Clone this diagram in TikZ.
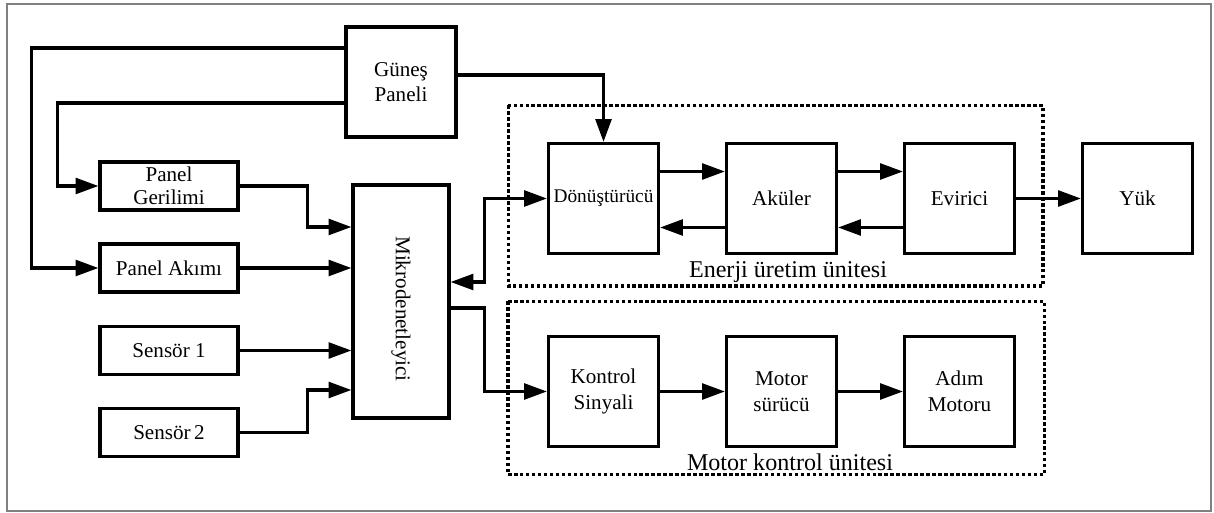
\documentclass[tikz,border=0pt]{standalone}
\usepackage{fontspec}
\setmainfont{Liberation Serif}
\usepackage{graphicx}
\usepackage{tikz}
\usetikzlibrary{positioning, arrows.meta}
\tikzset{B/.style={draw, line width=1.8pt, inner sep=0pt, align=center, minimum size=2.2cm, font=\fontsize{12}{14.5}\selectfont}}
\tikzset{W/.style={draw, line width=1.8pt, inner sep=0pt, align=center, minimum width=2.76cm, minimum height=0.96cm, font=\fontsize{12}{13}\selectfont}}
\tikzset{E/.style={draw, line width=1.8pt, ->, >={Triangle[length=13pt, width=9pt]}}}
\tikzset{D/.style={draw, line width=2.1pt, dash pattern=on 2pt off 1.4pt}}
\tikzset{L/.style={font=\fontsize{13.7}{16}\selectfont, inner sep=0pt, anchor=base}}

\begin{document}
\begin{tikzpicture}[node distance=3.56cm and 3.56cm, on grid]
        \useasboundingbox (0,0) rectangle (24.28,-10.26);
        \draw[gray, line width=1.3pt] (0.14,-0.08) rectangle (24.22,-10.22);
        %% Energy unit
        \node[B] (donus) at (12.07,-3.97) {\fontsize{11}{13}\selectfont Dönüştürücü};
        \node[B,right = of donus] (akul) {Aküler};
        \node[B,right = of akul] (evir) {Evirici};
        \node[B,right = of evir] (yuk) {Yük};
        %% Motor unit
        \node[B,below=3.86 of donus] (kontrol) {Kontrol\\Sinyali};
        \node[B,right = of kontrol] (surucu) {Motor\\sürücü};
        \node[B,right = of surucu] (adim) {Adım\\Motoru};
        %% Controller and inputs
        \node[B,minimum width=1.92cm,minimum height=4.66cm,below left=2.06 and 4.05 of donus] (mikro) {\raisebox{-3mm}{\rotatebox{-90}{Mikrodenetleyici}}};
        \node[B,above=4.39 of mikro] (gunes) {Güneş\\Paneli};
        \node[W,above left=0.67 and 4.64 of mikro] (pakim) {Panel Akımı};
        \node[W,above=1.64 of pakim] (pgerilim) {Panel\\Gerilimi};
        \node[W,below=1.65 of pakim] (sens1) {Sensör 1};
        \node[W,below=1.64 of sens1] (sens2) {Sensör\,2};
        %% Unit frames
        \draw[D] ([xshift=-0.77cm,yshift=0.73cm]donus.north west) rectangle ([xshift=0.54cm,yshift=-0.62cm]evir.south east);
        \draw[D] ([xshift=-0.78cm,yshift=0.67cm]kontrol.north west) rectangle ([xshift=0.57cm,yshift=-0.53cm]adim.south east);
        \node[L] (enerjilbl) at ([xshift=1.3mm,yshift=-4.4mm]akul.south) {Enerji üretim ünitesi};
        \node[L] (motorlbl) at ([xshift=1.7mm,yshift=-4.5mm]surucu.south) {Motor kontrol ünitesi};
        %% Solar panel edges
        \draw[E] ([yshift=6.8mm]gunes.west) -| ([xshift=-1.34cm]pakim.west) -- (pakim.west);
        \draw[E] ([yshift=-4.2mm]gunes.west) -| ([xshift=-0.82cm]pgerilim.west) -- (pgerilim.west);
        \draw[E] ([yshift=1.4mm]gunes.east) -| (donus.north);
        %% Inputs to controller
        \draw[E] (pgerilim.east) -- ++(1.36,0) |- ([yshift=1.49cm]mikro.west);
        \draw[E] (pakim.east) -- (pakim.east -| mikro.west);
        \draw[E] (sens1.east) -- (sens1.east -| mikro.west);
        \draw[E] (sens2.east) -- ++(1.36,0) |- ([yshift=-1.77cm]mikro.west);
        %% Controller outputs
        \draw[E,<->] ([yshift=3.9mm]mikro.east) -- ++(0.68,0) |- (donus.west);
        \draw[E] ([yshift=-1.3mm]mikro.east) -- ++(0.68,0) |- (kontrol.west);
        %% Energy unit edges
        \draw[E] ([yshift=5.4mm]donus.east) -- ([yshift=5.4mm]akul.west);
        \draw[E] ([yshift=-5.8mm]akul.west) -- ([yshift=-5.8mm]donus.east);
        \draw[E] ([yshift=5.4mm]akul.east) -- ([yshift=5.4mm]evir.west);
        \draw[E] ([yshift=-5.8mm]evir.west) -- ([yshift=-5.8mm]akul.east);
        \draw[E] (evir) -- (yuk);
        %% Motor unit edges
        \draw[E] (kontrol) -- (surucu);
        \draw[E] (surucu) -- (adim);
\end{tikzpicture}
\end{document}
